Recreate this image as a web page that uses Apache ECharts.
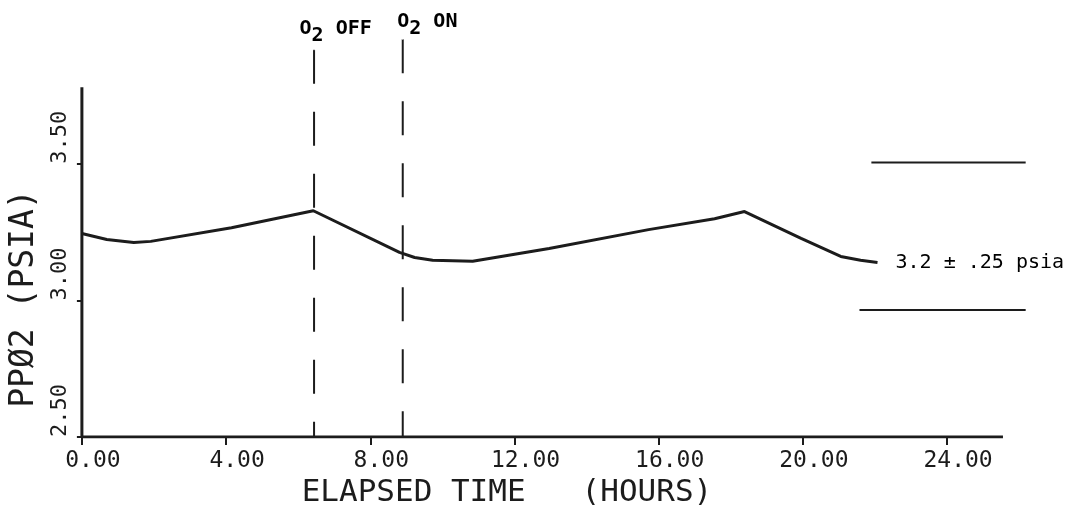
<!DOCTYPE html>
<html><head><meta charset="utf-8">
<script src="https://cdn.jsdelivr.net/npm/echarts@6/dist/echarts.min.js"></script>
<style>html,body{margin:0;padding:0;background:#fff}#c{width:1073px;height:513px}</style>
</head><body><div id="c"></div>
<script>
// Curve: elapsed time (hours) vs PPO2 (psia)
const hours = [0, 0.69, 1.44, 1.91, 4.15, 6.42, 8.81, 9.23, 9.73, 10.84, 12.96, 15.72, 17.55, 18.38, 19.95, 21.05, 21.6, 22.07];
const ppo2  = [3.245, 3.223, 3.212, 3.216, 3.266, 3.328, 3.176, 3.157, 3.147, 3.143, 3.19, 3.259, 3.299, 3.325, 3.227, 3.161, 3.147, 3.139];
// Events
const o2OffTime = 6.44, o2OnTime = 8.9;
const o2OffTop = 3.917, o2OnTop = 3.955;
// Limit lines (3.2 +/- .25 psia band as drawn)
const upperLimit = 3.505, lowerLimit = 2.965;
const upperSpan = [21.9, 26.18], lowerSpan = [21.57, 26.18];
// Axes
const xTicks = [0, 4, 8, 12, 16, 20, 24];
const yTicks = [2.5, 3.0, 3.5];
const xMin = 0, xMax = 26.3, xAxisEnd = 25.55;
const yMin = 2.5, yMax = 3.96, yAxisTop = 3.78;
const xTitle = 'ELAPSED TIME   (HOURS)';
const yTitle = 'PPØ2 (PSIA)';
const bandLabel = '3.2 ± .25 psia';

const INK = '#1c1c1c';
const MONO = 'DejaVu Sans Mono';
const chart = echarts.init(document.getElementById('c'), null, {renderer: 'canvas'});

const curve = hours.map((h, i) => [h, ppo2[i]]);
function seg(p0, p1, w, type) {
  return {type: 'line', data: [p0, p1], symbol: 'none', silent: true, z: 3,
    lineStyle: {color: INK, width: w, type: type || 'solid', cap: 'butt'}};
}
const subRich = {
  n: {fontFamily: MONO, fontSize: 20, fontWeight: 'bold', color: '#000', lineHeight: 20, verticalAlign: 'top'},
  s: {fontFamily: MONO, fontSize: 20, fontWeight: 'bold', color: '#000', lineHeight: 27, verticalAlign: 'bottom'}
};

chart.setOption({
  animation: false,
  backgroundColor: '#fff',
  grid: {left: 78, right: 43, top: 38, bottom: 73},
  xAxis: {
    type: 'value', min: xMin, max: xMax,
    axisLine: {show: false},
    splitLine: {show: false},
    axisTick: {show: true, customValues: xTicks, length: 8, lineStyle: {color: INK, width: 2}},
    axisLabel: {customValues: xTicks, formatter: v => v.toFixed(2), fontFamily: MONO, fontSize: 23,
      color: INK, margin: 12, padding: [0, 0, 0, 22]},
    name: xTitle, nameLocation: 'middle', nameGap: 38,
    nameTextStyle: {fontFamily: MONO, fontSize: 31, color: INK, padding: [0, 98, 0, 0]}
  },
  yAxis: {
    type: 'value', min: yMin, max: yMax,
    axisLine: {show: false},
    splitLine: {show: false},
    axisTick: {show: true, customValues: yTicks, length: 5, lineStyle: {color: INK, width: 2}},
    axisLabel: {customValues: yTicks, formatter: v => v.toFixed(2), rotate: 90, align: 'left',
      fontFamily: MONO, fontSize: 22, color: INK, margin: 11},
    name: yTitle, nameLocation: 'middle', nameRotate: 90, nameGap: 37,
    nameTextStyle: {fontFamily: MONO, fontSize: 33, color: INK, padding: [0, 122, 0, 0]}
  },
  series: [
    seg([xMin, yMin], [xAxisEnd, yMin], 3),
    seg([xMin, yMin], [xMin, yAxisTop], 3),
    seg([o2OffTime, o2OffTop], [o2OffTime, yMin], 2, [34, 28]),
    seg([o2OnTime, o2OnTop], [o2OnTime, yMin], 2, [34, 28]),
    seg([upperSpan[0], upperLimit], [upperSpan[1], upperLimit], 2),
    seg([lowerSpan[0], lowerLimit], [lowerSpan[1], lowerLimit], 2),
    {
      type: 'line', data: curve, symbol: 'none', z: 4,
      lineStyle: {color: INK, width: 3},
      endLabel: {show: true, formatter: bandLabel, distance: 18, fontFamily: MONO, fontSize: 20, color: '#000'}
    },
    {
      type: 'scatter', symbol: 'circle', symbolSize: 1, itemStyle: {color: '#fff', opacity: 1}, z: 5, silent: true,
      label: {show: true, color: '#000', opacity: 1},
      data: [
        {value: [o2OffTime, o2OffTop], label: {show: true, color: '#000', position: [-14, -30], formatter: '{n|O}{s|2}{n| OFF}', rich: subRich}},
        {value: [o2OnTime, o2OnTop], label: {show: true, color: '#000', position: [-5, -27], formatter: '{n|O}{s|2}{n| ON}', rich: subRich}}
      ]
    }
  ]
});
</script></body></html>
